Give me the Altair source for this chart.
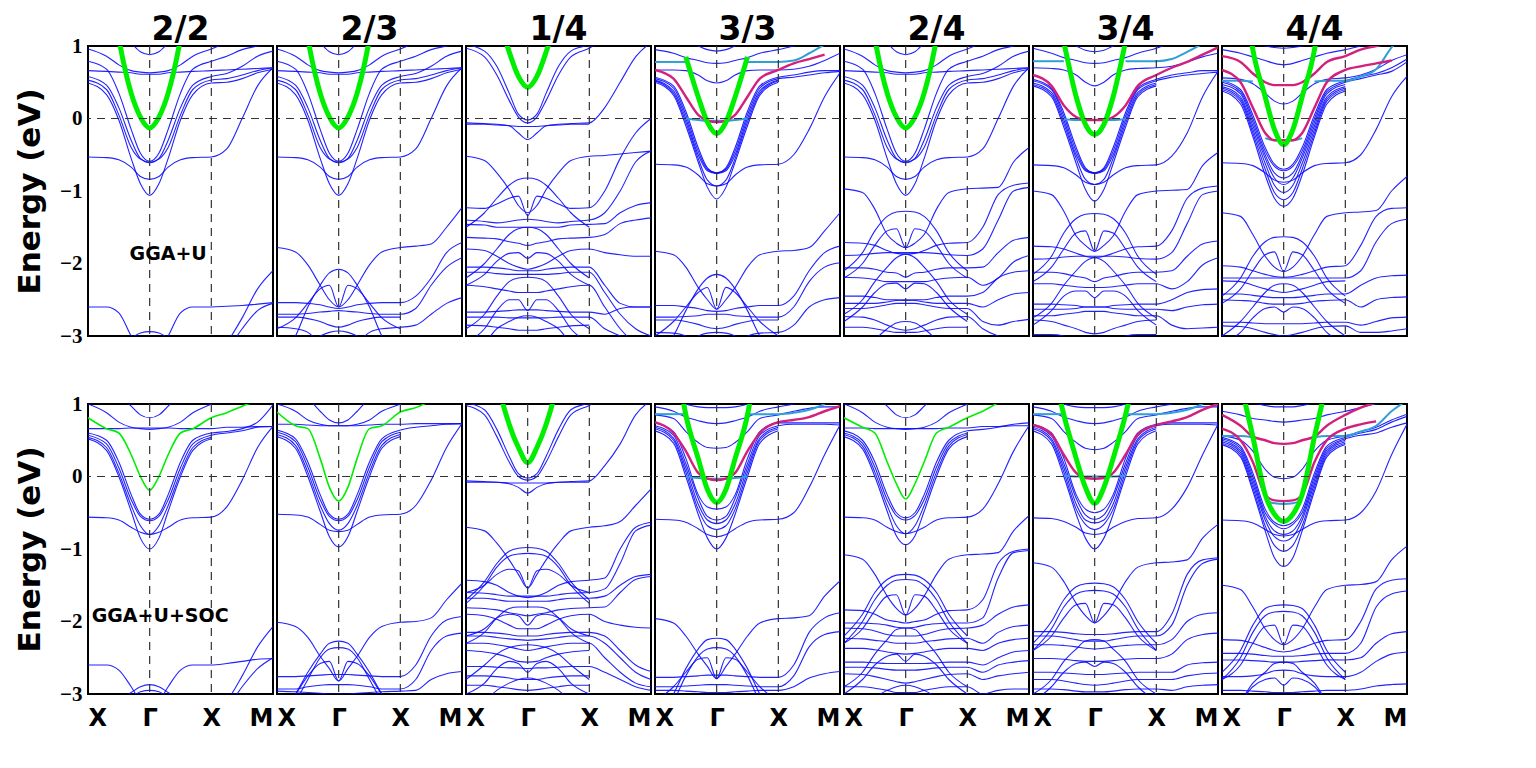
import altair as alt
import pandas as pd

# k-path: X - Gamma - X - M  (X=0, Gamma=1, X=2, M=3)
K_PATH = [0.0, 0.3, 0.5, 0.7, 0.85, 1.0, 1.15, 1.3, 1.5, 1.7, 2.0, 2.25, 2.5, 2.75, 3.0]
X_TICKS = [0, 1, 2, 3]
X_LABELS = ["X", "Γ", "X", "M"]
Y_TICKS = [-3, -2, -1, 0, 1]
COLUMN_TITLES = ["2/2", "2/3", "1/4", "3/3", "2/4", "3/4", "4/4"]
ROW_LABELS = ["GGA+U", "GGA+U+SOC"]
N = None

# Each band: [E(X), E(k=.3), E(.5), E(.7), E(.85), E(Gamma), E(XM .25), E(XM .5), E(XM .75), E(M)]
# (the Gamma-X half repeats the X-Gamma values; 6-value rows stop at X)

# ---------------- GGA+U (top row) ----------------
NEAR_TOP_A = [
    [0.66, 0.65, 0.64, 0.63, 0.61, 0.61, 0.67, 0.68, 0.69, 0.70],
    [0.96, 0.86, 0.74, 0.66, 0.64, 0.63, 1.05, 1.15, 1.2, 1.2],
    [1.6, 1.4, 1.2, 1.04, 0.92, 0.88],
    [0.79, 0.68, 0.35, -0.15, -0.48, -0.59, 0.86, 0.95, 1.0, 1.05],
    [0.58, 0.46, 0.15, -0.3, -0.55, -0.61, 0.62, 0.72, 0.86, 0.93],
    [0.53, 0.40, 0.05, -0.4, -0.56, -0.60, 0.55, 0.60, 0.66, 0.70],
    [0.49, 0.33, -0.02, -0.55, -0.9, -1.06, 0.50, 0.55, 0.63, 0.68],
    [-0.53, -0.54, -0.57, -0.67, -0.80, -0.84, -0.42, 0.0, 0.45, 0.70],
]
GREEN_TOP_A = [[3.0, 2.2, 1.1, 0.35, 0.02, -0.13]]

DEEP_TOP_22 = [
    [-2.6, -2.6, -2.68, -3.0, -3.2, -3.3, -2.59, -2.58, -2.56, -2.54],
    [-3.4, -3.3, -3.15, -3.03, -2.96, -2.94, -3.1, -2.75, -2.35, -2.1],
    [-3.4, -3.3, -3.2, -3.1, -3.05, -3.05, -3.2, -2.9, -2.65, -2.55],
]

DEEP_TOP_23 = [
    [-1.78, -1.84, -2.02, -2.3, -2.5, -2.6, -1.76, -1.73, -1.5, -1.23],
    [-2.9, -2.75, -2.55, -2.35, -2.3, -2.6],
    [-3.3, -3.0, -2.6, -2.3, -2.13, -2.08],
    [-2.54, -2.54, -2.55, -2.57, -2.6, -2.62, -2.45, -2.2, -1.85, -1.71],
    [-2.7, -2.7, -2.69, -2.67, -2.66, -2.65, -2.62, -2.3, -2.05, -1.92],
    [-2.74, -2.74, -2.76, -2.8, -2.85, -2.88],
    [-2.88, -2.9, -2.95, -3.1, -3.2, -3.2, -2.85, -2.7, -2.55, -2.47],
    [-3.3, -3.2, -3.1, -3.0, -2.95, -2.93],
]

BLUE_TOP_14 = [
    [0.97, 0.85, 0.6, 0.25, 0.02, -0.06, 1.1, 1.2, 1.2, 1.2],
    [1.02, 0.93, 0.72, 0.35, 0.06, -0.02, 1.15, 1.2, 1.2, 1.2],
    [-0.06, -0.07, -0.08, -0.1, -0.2, -0.29, 0.15, 0.5, 0.85, 1.05],
    [-0.08, -0.08, -0.09, -0.1, -0.11, -0.11],
    [-0.52, -0.58, -0.75, -0.98, -1.2, -1.3, -0.51, -0.49, -0.47, -0.45],
    [-1.5, -1.3, -1.1, -0.92, -0.84, -0.82],
    [-1.23, -1.24, -1.18, -1.1, -1.07, -1.34, -1.0, -0.55, -0.2, 0.0],
    [-1.4, -1.42, -1.44, -1.42, -1.4, -1.39, -1.3, -1.0, -0.6, -0.45],
    [-1.46, -1.47, -1.5, -1.5, -1.5, -1.5, -1.45, -1.3, -1.2, -1.16],
    [-2.2, -2.0, -1.8, -1.6, -1.52, -1.5],
    [-1.64, -1.65, -1.66, -1.7, -1.72, -1.75, -1.6, -1.45, -1.4, -1.37],
    [-2.3, -2.15, -1.97, -1.86, -1.85, -1.93],
    [-1.8, -1.82, -1.9, -2.0, -2.05, -2.08, -1.85, -1.88, -1.9, -1.9],
    [-2.05, -2.05, -2.06, -2.08, -2.1, -2.1, -2.3, -2.55, -2.6, -2.6],
    [-2.12, -2.12, -2.14, -2.15, -2.15, -2.15, -2.4, -2.7, -2.9, -3.0],
    [-2.9, -2.7, -2.45, -2.25, -2.2, -2.19],
    [-2.3, -2.32, -2.35, -2.38, -2.4, -2.4, -2.6, -2.9, -3.1, -3.2],
    [-3.1, -2.9, -2.65, -2.5, -2.5, -2.65],
    [-2.67, -2.67, -2.66, -2.65, -2.64, -2.64, -2.7, -2.62, -2.6, -2.6],
    [-2.74, -2.74, -2.74, -2.75, -2.75, -2.75, -2.9, -3.0, -3.1, -3.1],
    [-2.85, -2.86, -2.88, -2.9, -2.92, -2.92],
    [-3.3, -3.1, -2.9, -2.8, -2.74, -2.72],
]
GREEN_TOP_14 = [[N, 2.4, 1.5, 0.92, 0.58, 0.43]]

BLUE_TOP_33 = [
    [0.95, 0.9, 0.84, 0.8, 0.77, 0.76, 1.0, 1.05, 1.1, 1.1],
    [0.67, 0.67, 0.66, 0.6, 0.52, 0.49, 0.68, 0.72, 0.8, 0.9],
    [1.4, 1.2, 1.06, 1.0, 0.95, 0.93],
    [0.57, 0.45, 0.1, -0.4, -0.68, -0.75, 0.6, 0.64, 0.66, 0.66],
    [0.55, 0.42, 0.05, -0.45, -0.7, -0.75, 0.57, 0.6, 0.63, 0.65],
    [0.53, 0.38, 0.0, -0.5, -0.72, -0.76],
    [0.52, 0.35, -0.05, -0.55, -0.85, -0.93],
    [0.5, 0.32, -0.1, -0.6, -0.95, -1.11],
    [-0.63, -0.64, -0.67, -0.78, -0.9, -0.93, -0.5, -0.15, 0.3, 0.63],
    [-1.83, -1.88, -2.05, -2.33, -2.5, -2.63, -1.82, -1.78, -1.55, -1.3],
    [-3.0, -2.8, -2.6, -2.4, -2.33, -2.63],
    [-3.3, -3.0, -2.65, -2.35, -2.2, -2.15],
    [-2.58, -2.58, -2.6, -2.62, -2.65, -2.66, -2.45, -2.1, -1.85, -1.76],
    [-2.74, -2.74, -2.73, -2.72, -2.7, -2.7, -2.6, -2.25, -2.05, -1.99],
    [-2.78, -2.78, -2.8, -2.84, -2.88, -2.9],
    [-2.95, -2.96, -3.0, -3.1, -3.2, -3.2, -2.85, -2.6, -2.5, -2.47],
    [-3.3, -3.2, -3.1, -3.0, -2.96, -2.95],
]
GREEN_TOP_33 = [[N, N, 0.85, 0.3, -0.05, -0.21]]
MAGENTA_TOP_33 = [[0.67, 0.55, 0.3, 0.05, -0.03, -0.05, 0.76, 0.82, 0.88, N]]
CYAN_TOP_33 = [[0.78, 0.78, 0.78, N, N, N, 0.8, 0.9, 1.02, N],
               [N, N, 0.0, -0.02, -0.03, -0.03]]

DEEP_TOP_24 = [
    [-0.97, -1.02, -1.25, -1.6, -1.72, -1.78, -0.96, -0.95, -0.6, -0.4],
    [-2.1, -1.85, -1.55, -1.35, -1.29, -1.28],
    [-2.2, -2.0, -1.75, -1.55, -1.52, -1.78],
    [-1.71, -1.72, -1.75, -1.82, -1.86, -1.87, -1.5, -1.05, -0.92, -0.89],
    [-1.89, -1.88, -1.86, -1.85, -1.85, -1.85, -1.8, -1.4, -1.0, -0.95],
    [-2.06, -2.06, -2.08, -2.12, -2.13, -2.19, -2.05, -1.85, -1.68, -1.64],
    [-2.7, -2.5, -2.25, -2.05, -1.92, -1.87],
    [-2.19, -2.2, -2.22, -2.25, -2.25, -2.25, -2.3, -2.2, -1.98, -1.89],
    [-2.8, -2.6, -2.4, -2.28, -2.27, -2.35],
    [-2.45, -2.45, -2.47, -2.5, -2.5, -2.51, -2.4, -2.2, -2.12, -2.1],
    [-2.55, -2.55, -2.55, -2.53, -2.51, -2.5, -2.6, -2.5, -2.42, -2.4],
    [-2.62, -2.62, -2.6, -2.57, -2.55, -2.55, -2.8, -2.85, -2.8, -2.77],
    [-2.73, -2.74, -2.78, -2.85, -2.9, -2.92, -2.9, -3.0, -3.05, -3.1],
    [-2.88, -2.88, -2.9, -2.93, -2.95, -2.95],
    [-3.3, -3.2, -3.05, -2.9, -2.82, -2.8],
]

BLUE_TOP_34 = [
    [0.97, 0.9, 0.84, 0.8, 0.77, 0.76, 1.05, 1.1, 1.1, 1.1],
    [0.7, 0.69, 0.67, 0.6, 0.5, 0.45, 0.72, 0.78, 0.85, 0.9],
    [1.4, 1.2, 1.06, 1.0, 0.94, 0.92],
    [0.54, 0.42, 0.08, -0.4, -0.68, -0.75, 0.6, 0.63, 0.66, 0.66],
    [0.52, 0.4, 0.03, -0.45, -0.7, -0.75, 0.57, 0.6, 0.62, 0.64],
    [0.49, 0.36, -0.02, -0.5, -0.72, -0.76],
    [0.47, 0.33, -0.07, -0.55, -0.84, -0.91],
    [0.45, 0.3, -0.12, -0.62, -0.98, -1.14],
    [-0.64, -0.65, -0.68, -0.78, -0.88, -0.91, -0.52, -0.2, 0.3, 0.65],
    [-1.0, -1.05, -1.28, -1.62, -1.75, -1.83, -0.99, -0.98, -0.65, -0.47],
    [-2.15, -1.9, -1.58, -1.38, -1.32, -1.31],
    [-2.25, -2.05, -1.8, -1.58, -1.55, -1.83],
    [-1.76, -1.77, -1.8, -1.86, -1.9, -1.92, -1.55, -1.1, -0.96, -0.93],
    [-1.94, -1.93, -1.91, -1.9, -1.9, -1.9, -1.85, -1.45, -1.05, -1.0],
    [-2.12, -2.12, -2.14, -2.18, -2.2, -2.25, -2.1, -1.9, -1.73, -1.69],
    [-2.75, -2.55, -2.3, -2.1, -1.97, -1.92],
    [-2.28, -2.28, -2.3, -2.32, -2.33, -2.33, -2.35, -2.25, -2.02, -1.92],
    [-2.85, -2.65, -2.45, -2.38, -2.38, -2.47],
    [-2.56, -2.56, -2.57, -2.58, -2.6, -2.6, -2.5, -2.4, -2.36, -2.35],
    [-2.63, -2.63, -2.63, -2.62, -2.6, -2.6, -2.65, -2.6, -2.57, -2.56],
    [-2.72, -2.72, -2.7, -2.68, -2.66, -2.66, -2.85, -2.9, -2.89, -2.88],
    [-2.78, -2.8, -2.85, -2.9, -2.95, -2.97],
    [-2.98, -2.98, -3.0, -3.05, -3.05, -3.05],
]
GREEN_TOP_34 = [[N, 1.8, 1.05, 0.3, -0.08, -0.22]]
MAGENTA_TOP_34 = [[0.6, 0.45, 0.18, 0.02, -0.02, -0.02, 0.7, 0.78, 0.88, 0.98]]
CYAN_TOP_34 = [[0.79, 0.79, 0.79, N, N, N, 0.82, 0.92, 1.03, N],
               [N, N, -0.01, -0.02, -0.02, -0.02]]

BLUE_TOP_44 = [
    [0.95, 0.9, 0.85, 0.8, 0.76, 0.74, 1.0, 1.05, 1.1, 1.1],
    [1.3, 1.15, 1.05, 1.0, 0.98, 0.97],
    [0.56, 0.54, 0.48, 0.35, 0.24, 0.2, 0.6, 0.68, 0.8, 0.88],
    [0.52, 0.4, 0.05, -0.4, -0.63, -0.7, 0.58, 0.62, 0.7, 0.82],
    [0.5, 0.37, 0.0, -0.45, -0.66, -0.72, 0.55, 0.6, 0.65, 0.78],
    [0.47, 0.34, -0.05, -0.5, -0.75, -0.82],
    [0.44, 0.3, -0.1, -0.55, -0.82, -0.91],
    [0.42, 0.27, -0.15, -0.62, -0.92, -1.02],
    [0.4, 0.24, -0.2, -0.7, -1.02, -1.12],
    [0.38, 0.2, -0.25, -0.78, -1.1, -1.21],
    [-0.61, -0.62, -0.65, -0.75, -0.85, -0.88, -0.5, -0.15, 0.3, 0.58],
    [-1.3, -1.35, -1.6, -1.9, -2.05, -2.11, -1.29, -1.27, -1.0, -0.8],
    [-2.45, -2.2, -1.9, -1.7, -1.64, -1.63],
    [-2.55, -2.35, -2.1, -1.88, -1.84, -2.11],
    [-2.03, -2.05, -2.1, -2.15, -2.18, -2.19, -1.75, -1.35, -1.24, -1.23],
    [-2.2, -2.2, -2.2, -2.2, -2.2, -2.2, -2.1, -1.7, -1.45, -1.39],
    [-2.24, -2.25, -2.3, -2.35, -2.38, -2.4],
    [-2.42, -2.42, -2.44, -2.46, -2.47, -2.47, -2.3, -2.2, -2.17, -2.16],
    [-3.0, -2.8, -2.6, -2.4, -2.3, -2.28],
    [-2.5, -2.51, -2.52, -2.55, -2.56, -2.56, -2.6, -2.5, -2.47, -2.46],
    [-3.1, -2.95, -2.75, -2.62, -2.6, -2.67],
    [-2.81, -2.81, -2.82, -2.83, -2.83, -2.83, -2.85, -2.8, -2.75, -2.74],
    [-2.86, -2.87, -2.9, -2.95, -2.98, -3.0, -2.95, -2.95, -2.93, -2.9],
]
GREEN_TOP_44 = [[N, 2.2, 0.95, 0.3, -0.15, -0.36]]
MAGENTA_TOP_44 = [[0.67, 0.5, 0.15, -0.2, -0.3, -0.3, 0.72, 0.76, 0.8, N],
                  [0.86, 0.78, 0.62, 0.5, 0.46, 0.46, 0.95, 1.0, 1.05, N]]
CYAN_TOP_44 = [[0.52, 0.52, 0.51, N, N, N, 0.58, 0.68, 0.98, 1.2],
               [N, N, N, -0.27, -0.3, -0.3]]

# ---------------- GGA+U+SOC (bottom row) ----------------
BLUE_BOT_22 = [
    [0.66, 0.66, 0.66, 0.67, 0.67, 0.67, 0.68, 0.68, 0.69, 0.69],
    [1.0, 0.88, 0.75, 0.68, 0.66, 0.65, 1.1, 1.2, 1.2, 1.2],
    [1.6, 1.4, 1.15, 0.97, 0.85, 0.81],
    [0.6, 0.5, 0.2, -0.25, -0.52, -0.59, 0.62, 0.66, 0.75, 0.99],
    [0.57, 0.45, 0.12, -0.32, -0.55, -0.61, 0.6, 0.63, 0.68, 0.69],
    [0.54, 0.4, 0.05, -0.4, -0.68, -0.8],
    [0.52, 0.36, 0.0, -0.48, -0.85, -1.0],
    [-0.56, -0.57, -0.6, -0.7, -0.77, -0.8, -0.42, -0.05, 0.4, 0.69],
    [-2.6, -2.6, -2.67, -2.9, -3.1, -3.2, -2.58, -2.55, -2.52, -2.51],
    [-3.3, -3.2, -3.1, -2.98, -2.9, -2.87, -3.1, -2.75, -2.35, -2.07],
    [-3.4, -3.3, -3.15, -3.05, -2.97, -2.95, -3.2, -2.9, -2.65, -2.5],
]
GREEN_BOT_22 = [[0.81, 0.66, 0.6, 0.3, 0.0, -0.19, 0.88, 0.97, 1.05, N]]

BLUE_BOT_23 = [
    [0.72, 0.72, 0.71, 0.7, 0.7, 0.7, 0.73, 0.73, 0.73, 0.73],
    [1.0, 0.9, 0.78, 0.72, 0.7, 0.7, 1.1, 1.2, 1.2, 1.2],
    [1.6, 1.4, 1.1, 0.9, 0.78, 0.74],
    [0.64, 0.52, 0.2, -0.25, -0.52, -0.59, 0.68, 0.7, 0.72, 0.73],
    [0.61, 0.48, 0.13, -0.32, -0.55, -0.61],
    [0.58, 0.43, 0.06, -0.4, -0.65, -0.74],
    [0.55, 0.39, 0.0, -0.48, -0.83, -0.97],
    [-0.52, -0.53, -0.56, -0.66, -0.74, -0.76, -0.4, -0.05, 0.4, 0.73],
    [-2.01, -2.07, -2.22, -2.48, -2.65, -2.82, -2.0, -1.95, -1.7, -1.47],
    [-3.3, -3.0, -2.7, -2.45, -2.3, -2.27],
    [-3.4, -3.1, -2.8, -2.5, -2.38, -2.36],
    [-3.2, -3.0, -2.75, -2.58, -2.55, -2.82],
    [-2.76, -2.76, -2.75, -2.74, -2.73, -2.73, -2.6, -2.2, -1.98, -1.93],
    [-2.93, -2.93, -2.9, -2.88, -2.87, -2.87, -2.8, -2.4, -2.2, -2.16],
    [-2.96, -2.97, -2.98, -2.99, -3.0, -3.0, -2.95, -2.8, -2.72, -2.69],
]
GREEN_BOT_23 = [[0.89, 0.7, 0.66, 0.25, -0.15, -0.34, 0.95, 1.05, N, N]]

BLUE_BOT_14 = [
    [0.98, 0.85, 0.55, 0.2, 0.0, -0.05, 1.1, 1.2, 1.2, 1.2],
    [1.02, 0.92, 0.65, 0.28, 0.04, -0.02, 1.15, 1.2, 1.2, 1.2],
    [-0.06, -0.07, -0.08, -0.1, -0.15, -0.23, 0.15, 0.45, 0.85, 1.05],
    [-0.08, -0.08, -0.08, -0.09, -0.09, -0.09],
    [-0.7, -0.75, -0.92, -1.15, -1.35, -1.54, -0.68, -0.62, -0.4, -0.17],
    [-1.7, -1.45, -1.2, -1.03, -0.99, -0.98],
    [-1.75, -1.5, -1.25, -1.1, -1.07, -1.06],
    [-1.6, -1.5, -1.35, -1.28, -1.3, -1.54],
    [-1.43, -1.45, -1.5, -1.6, -1.65, -1.67, -1.4, -1.0, -0.7, -0.63],
    [-1.6, -1.61, -1.63, -1.65, -1.65, -1.65, -1.55, -1.2, -0.75, -0.67],
    [-1.68, -1.68, -1.7, -1.72, -1.72, -1.72, -1.65, -1.5, -1.38, -1.35],
    [-1.81, -1.82, -1.84, -1.88, -1.9, -1.92, -1.8, -1.6, -1.42, -1.38],
    [-2.3, -2.15, -1.95, -1.82, -1.8, -1.8],
    [-2.2, -2.1, -1.95, -1.9, -1.92, -2.05],
    [-1.9, -1.92, -1.97, -2.05, -2.1, -2.1, -2.0, -2.05, -2.08, -2.09],
    [-2.15, -2.15, -2.16, -2.18, -2.2, -2.2, -2.2, -2.4, -2.6, -2.69],
    [-2.2, -2.2, -2.22, -2.24, -2.25, -2.26, -2.3, -2.5, -2.7, -2.8],
    [-2.3, -2.3, -2.32, -2.35, -2.38, -2.4, -2.5, -2.7, -2.85, -2.9],
    [-2.8, -2.6, -2.45, -2.36, -2.33, -2.32],
    [-2.4, -2.42, -2.45, -2.5, -2.55, -2.56],
    [-3.0, -2.85, -2.65, -2.55, -2.58, -2.7],
    [-2.62, -2.62, -2.63, -2.64, -2.64, -2.65, -2.7, -2.8, -2.9, -2.95],
    [-2.75, -2.75, -2.76, -2.78, -2.8, -2.8],
    [-2.88, -2.88, -2.9, -2.92, -2.94, -2.95],
    [-3.3, -3.1, -2.95, -2.85, -2.8, -2.78],
]
GREEN_BOT_14 = [[N, 2.4, 1.35, 0.72, 0.4, 0.19]]

BLUE_BOT_33 = [
    [0.96, 0.9, 0.82, 0.77, 0.74, 0.73, 1.0, 1.05, 1.05, 1.05],
    [0.85, 0.8, 0.62, 0.47, 0.4, 0.39, 0.9, 0.94, 0.96, 0.96],
    [1.2, 1.1, 1.0, 0.96, 0.95, 0.95],
    [0.74, 0.62, 0.25, -0.25, -0.42, -0.45, 0.74, 0.74, 0.74, 0.74],
    [0.7, 0.57, 0.18, -0.3, -0.55, -0.6, 0.72, 0.72, 0.72, 0.71],
    [0.68, 0.53, 0.12, -0.38, -0.6, -0.65],
    [0.66, 0.5, 0.06, -0.45, -0.68, -0.73],
    [0.63, 0.46, 0.0, -0.52, -0.85, -1.0],
    [-0.59, -0.6, -0.63, -0.72, -0.8, -0.83, -0.5, -0.15, 0.3, 0.71],
    [-1.96, -2.02, -2.2, -2.45, -2.62, -2.79, -1.95, -1.92, -1.65, -1.44],
    [-3.3, -3.0, -2.65, -2.38, -2.25, -2.23],
    [-3.4, -3.1, -2.75, -2.48, -2.38, -2.36],
    [-3.1, -2.9, -2.7, -2.52, -2.5, -2.79],
    [-2.77, -2.77, -2.76, -2.75, -2.74, -2.74, -2.6, -2.15, -1.95, -1.88],
    [-2.9, -2.9, -2.89, -2.88, -2.87, -2.87, -2.75, -2.35, -2.18, -2.14],
    [-2.95, -2.95, -2.96, -2.97, -2.98, -2.98, -2.9, -2.78, -2.72, -2.69],
]
GREEN_BOT_33 = [[N, 1.9, 0.85, 0.25, -0.18, -0.36]]
MAGENTA_BOT_33 = [[0.75, 0.6, 0.35, 0.05, -0.03, -0.05, 0.78, 0.82, 0.9, 0.97]]
CYAN_BOT_33 = [[0.86, 0.86, 0.86, N, N, N, 0.88, 0.92, 1.0, N],
               [N, N, 0.0, -0.02, -0.03, -0.03]]

BLUE_BOT_24 = [
    [0.67, 0.67, 0.66, 0.66, 0.66, 0.66, 0.69, 0.69, 0.7, 0.7],
    [1.0, 0.88, 0.75, 0.68, 0.66, 0.65, 1.1, 1.2, 1.2, 1.2],
    [1.6, 1.4, 1.15, 0.97, 0.85, 0.81],
    [0.63, 0.5, 0.2, -0.25, -0.5, -0.57, 0.65, 0.68, 0.72, 0.74],
    [0.6, 0.46, 0.13, -0.32, -0.54, -0.6],
    [0.58, 0.42, 0.06, -0.4, -0.68, -0.79],
    [0.55, 0.38, 0.0, -0.48, -0.82, -0.94],
    [-0.56, -0.57, -0.6, -0.7, -0.76, -0.79, -0.45, -0.1, 0.35, 0.7],
    [-1.08, -1.14, -1.35, -1.65, -1.82, -1.91, -1.07, -1.05, -0.75, -0.54],
    [-2.2, -1.9, -1.6, -1.42, -1.36, -1.35],
    [-2.3, -2.0, -1.7, -1.5, -1.43, -1.42],
    [-2.3, -2.1, -1.85, -1.65, -1.63, -1.91],
    [-1.84, -1.85, -1.9, -1.98, -2.0, -2.02, -1.7, -1.2, -1.03, -1.0],
    [-2.02, -2.02, -2.03, -2.05, -2.08, -2.09, -1.95, -1.4, -1.05, -1.02],
    [-2.09, -2.1, -2.13, -2.18, -2.2, -2.2, -2.05, -1.9, -1.8, -1.77],
    [-2.23, -2.24, -2.26, -2.28, -2.3, -2.3, -2.3, -2.15, -2.07, -2.05],
    [-2.9, -2.7, -2.45, -2.25, -2.11, -2.09],
    [-2.37, -2.37, -2.39, -2.42, -2.44, -2.45, -2.4, -2.3, -2.25, -2.23],
    [-3.0, -2.8, -2.6, -2.48, -2.45, -2.55],
    [-2.56, -2.56, -2.57, -2.58, -2.58, -2.58, -2.6, -2.5, -2.42, -2.4],
    [-2.63, -2.63, -2.64, -2.66, -2.67, -2.67, -2.7, -2.6, -2.56, -2.54],
    [-2.72, -2.73, -2.76, -2.8, -2.83, -2.85, -2.8, -2.75, -2.72, -2.7],
    [-2.9, -2.9, -2.92, -2.95, -2.98, -2.98, -3.0, -2.95, -2.93, -2.93],
    [-3.4, -3.2, -3.05, -2.95, -2.9, -2.88],
]
GREEN_BOT_24 = [[0.81, 0.68, 0.6, 0.2, -0.1, -0.31, 0.9, 1.02, N, N]]

BLUE_BOT_34 = [
    [0.96, 0.9, 0.82, 0.77, 0.74, 0.73, 1.0, 1.05, 1.05, 1.05],
    [0.85, 0.8, 0.62, 0.47, 0.39, 0.37, 0.9, 0.94, 0.96, 0.96],
    [1.2, 1.1, 1.0, 0.96, 0.95, 0.95],
    [0.72, 0.6, 0.25, -0.25, -0.45, -0.5, 0.74, 0.74, 0.74, 0.74],
    [0.7, 0.56, 0.18, -0.3, -0.53, -0.59, 0.72, 0.72, 0.72, 0.71],
    [0.68, 0.52, 0.12, -0.38, -0.6, -0.64],
    [0.66, 0.49, 0.06, -0.45, -0.66, -0.73],
    [0.63, 0.45, 0.0, -0.52, -0.85, -1.0],
    [-0.57, -0.58, -0.62, -0.7, -0.78, -0.8, -0.45, -0.15, 0.3, 0.72],
    [-1.19, -1.25, -1.45, -1.75, -1.92, -2.02, -1.18, -1.15, -0.85, -0.66],
    [-2.3, -2.0, -1.7, -1.52, -1.48, -1.47],
    [-2.4, -2.1, -1.8, -1.62, -1.58, -1.57],
    [-2.4, -2.2, -1.95, -1.77, -1.75, -2.02],
    [-2.14, -2.14, -2.15, -2.17, -2.18, -2.18, -1.9, -1.35, -1.15, -1.12],
    [-2.2, -2.2, -2.22, -2.25, -2.27, -2.27, -2.05, -1.5, -1.2, -1.14],
    [-2.32, -2.32, -2.33, -2.35, -2.37, -2.38, -2.25, -2.0, -1.9, -1.88],
    [-3.0, -2.8, -2.55, -2.38, -2.27, -2.25],
    [-2.51, -2.51, -2.52, -2.54, -2.55, -2.55, -2.45, -2.25, -2.18, -2.16],
    [-3.1, -2.9, -2.7, -2.58, -2.56, -2.62],
    [-2.7, -2.7, -2.71, -2.72, -2.73, -2.73, -2.7, -2.6, -2.57, -2.56],
    [-2.8, -2.8, -2.82, -2.85, -2.87, -2.88, -2.8, -2.75, -2.72, -2.71],
    [-2.93, -2.93, -2.94, -2.96, -2.97, -2.97, -2.95, -2.9, -2.88, -2.87],
]
GREEN_BOT_34 = [[N, 1.6, 0.85, 0.25, -0.15, -0.37]]
MAGENTA_BOT_34 = [[0.71, 0.58, 0.3, 0.05, -0.02, -0.03, 0.76, 0.82, 0.92, 1.0]]
CYAN_BOT_34 = [[0.86, 0.86, 0.86, N, N, N, 0.88, 0.92, 1.0, N],
               [N, N, 0.01, 0.0, 0.0, 0.0]]

BLUE_BOT_44 = [
    [1.2, 1.1, 1.02, 0.98, 0.96, 0.96],
    [0.9, 0.85, 0.8, 0.78, 0.76, 0.75, 0.95, 1.0, 1.02, 1.02],
    [0.56, 0.5, 0.35, 0.1, -0.01, -0.03, 0.62, 0.68, 0.78, 0.86],
    [0.54, 0.42, 0.05, -0.45, -0.63, -0.68, 0.6, 0.65, 0.75, 0.83],
    [0.52, 0.39, 0.0, -0.5, -0.66, -0.72, 0.57, 0.6, 0.68, 0.74],
    [0.5, 0.36, -0.05, -0.55, -0.75, -0.8],
    [0.48, 0.33, -0.1, -0.6, -0.83, -0.89],
    [0.46, 0.3, -0.15, -0.68, -0.95, -1.03],
    [0.44, 0.27, -0.2, -0.75, -1.12, -1.24],
    [-0.6, -0.61, -0.64, -0.73, -0.8, -0.82, -0.5, -0.2, 0.3, 0.72],
    [-1.5, -1.56, -1.8, -2.1, -2.25, -2.32, -1.49, -1.45, -1.15, -0.96],
    [-2.7, -2.4, -2.05, -1.82, -1.78, -1.77],
    [-2.8, -2.5, -2.15, -1.92, -1.87, -1.86],
    [-2.8, -2.6, -2.3, -2.07, -2.05, -2.32],
    [-2.25, -2.26, -2.3, -2.36, -2.4, -2.42, -2.0, -1.55, -1.43, -1.41],
    [-2.44, -2.44, -2.45, -2.47, -2.48, -2.48, -2.3, -1.8, -1.62, -1.58],
    [-2.53, -2.53, -2.54, -2.55, -2.56, -2.56, -2.5, -2.3, -2.17, -2.14],
    [-3.3, -3.1, -2.85, -2.7, -2.58, -2.56],
    [-2.76, -2.76, -2.75, -2.72, -2.68, -2.67, -2.7, -2.55, -2.45, -2.42],
    [-2.95, -2.95, -2.96, -2.97, -2.98, -2.98, -2.93, -2.89, -2.87, -2.86],
    [-3.3, -3.1, -2.9, -2.8, -2.78, -2.88],
]
GREEN_BOT_44 = [[N, 1.3, 0.55, -0.25, -0.52, -0.62]]
MAGENTA_BOT_44 = [[0.66, 0.5, 0.2, -0.25, -0.33, -0.34, 0.72, 0.76, N, N],
                  [0.85, 0.7, 0.55, 0.5, 0.46, 0.45, 0.95, 1.02, N, N]]
CYAN_BOT_44 = [[0.56, 0.56, 0.54, N, N, N, 0.62, 0.7, 0.9, 1.05],
               [N, N, N, -0.33, -0.37, -0.38]]

PANELS = [
    [  # GGA+U
        {"blue": NEAR_TOP_A + DEEP_TOP_22, "green": GREEN_TOP_A},
        {"blue": NEAR_TOP_A + DEEP_TOP_23, "green": GREEN_TOP_A},
        {"blue": BLUE_TOP_14, "green": GREEN_TOP_14},
        {"blue": BLUE_TOP_33, "green": GREEN_TOP_33, "magenta": MAGENTA_TOP_33, "cyan": CYAN_TOP_33},
        {"blue": NEAR_TOP_A + DEEP_TOP_24, "green": GREEN_TOP_A},
        {"blue": BLUE_TOP_34, "green": GREEN_TOP_34, "magenta": MAGENTA_TOP_34, "cyan": CYAN_TOP_34},
        {"blue": BLUE_TOP_44, "green": GREEN_TOP_44, "magenta": MAGENTA_TOP_44, "cyan": CYAN_TOP_44},
    ],
    [  # GGA+U+SOC
        {"blue": BLUE_BOT_22, "green": GREEN_BOT_22},
        {"blue": BLUE_BOT_23, "green": GREEN_BOT_23},
        {"blue": BLUE_BOT_14, "green": GREEN_BOT_14},
        {"blue": BLUE_BOT_33, "green": GREEN_BOT_33, "magenta": MAGENTA_BOT_33, "cyan": CYAN_BOT_33},
        {"blue": BLUE_BOT_24, "green": GREEN_BOT_24},
        {"blue": BLUE_BOT_34, "green": GREEN_BOT_34, "magenta": MAGENTA_BOT_34, "cyan": CYAN_BOT_34},
        {"blue": BLUE_BOT_44, "green": GREEN_BOT_44, "magenta": MAGENTA_BOT_44, "cyan": CYAN_BOT_44},
    ],
]

# styles (colour, width, opacity)
STYLE = {
    "blue": ("#0a0aff", 1.1, 0.9),
    "cyan": ("#2f9fd6", 2.0, 1.0),
    "magenta": ("#d2207c", 2.4, 1.0),
    "green": ("#00ee00", 5.0, 1.0),
}
THIN_GREEN = {(1, 0), (1, 1), (1, 4)}
LABEL_POS = [(1.3, -1.87), (1.17, -1.92)]
TITLE_POS = (1.5, 1.22)
PANEL_W, PANEL_H = 185, 290


def path_values(row):
    r = list(row) + [None] * (10 - len(row))
    x, a, b, c, d, g, m1, m2, m3, m = r
    return [x, a, b, c, d, g, d, c, b, a, x, m1, m2, m3, m]


def to_frame(rows, tag):
    recs = []
    for i, row in enumerate(rows):
        seg = 0
        gap = True
        for k, e in zip(K_PATH, path_values(row)):
            if e is None:
                gap = True
                continue
            if gap:
                seg += 1
                gap = False
            recs.append({"k": k, "E": e, "band": f"{tag}{i}_{seg}"})
    return pd.DataFrame(recs)


xs = alt.Scale(domain=[0, 3], nice=False, zero=False)
ys = alt.Scale(domain=[-3, 1], nice=False, zero=False)
label_expr = "[" + ",".join(f"'{t}'" for t in X_LABELS) + "][datum.value]"


def make_panel(spec, row, col):
    if row == 1:
        xaxis = alt.Axis(values=X_TICKS, labelExpr=label_expr, labelFont="DejaVu Sans",
                         labelFontWeight="bold", labelFontSize=24, labelColor="black",
                         labelPadding=12, labelFlush=True, labelAngle=0, ticks=False,
                         domain=False, grid=False, title=None)
        X = alt.X("k:Q", scale=xs, axis=xaxis)
    else:
        X = alt.X("k:Q", scale=xs, axis=None)
    if col == 0:
        yaxis = alt.Axis(values=Y_TICKS, labelFont="Liberation Serif", labelFontWeight="bold",
                         labelFontSize=21, labelColor="black", labelPadding=6, ticks=False,
                         domain=False, grid=False, title="Energy (eV)", titleFont="DejaVu Sans",
                         titleFontWeight="bold", titleFontSize=31, titlePadding=13,
                         titleColor="black")
        Y = alt.Y("E:Q", scale=ys, axis=yaxis)
    else:
        Y = alt.Y("E:Q", scale=ys, axis=None)

    layers = []
    for kind in ["blue", "cyan", "magenta", "green"]:
        rows = spec.get(kind)
        if not rows:
            continue
        df = to_frame(rows, kind)
        color, width, op = STYLE[kind]
        if kind == "green" and (row, col) in THIN_GREEN:
            width = 1.6
        layers.append(
            alt.Chart(df).mark_line(interpolate="monotone", clip=True, color=color,
                                    strokeWidth=width, opacity=op)
            .encode(x=X, y=Y, detail="band:N")
        )
    layers.append(
        alt.Chart(pd.DataFrame({"E": [0.0]})).mark_rule(color="#333333", strokeDash=[8, 6],
                                                        strokeWidth=1.2).encode(y=Y)
    )
    layers.append(
        alt.Chart(pd.DataFrame({"k": [1.0, 2.0]})).mark_rule(color="#333333", strokeDash=[8, 6],
                                                             strokeWidth=1.2).encode(x=X)
    )
    if col == 0:
        lk, le = LABEL_POS[row]
        layers.append(
            alt.Chart(pd.DataFrame({"k": [lk], "E": [le], "t": [ROW_LABELS[row]]}))
            .mark_text(font="DejaVu Sans", fontWeight="bold", fontSize=19, color="black")
            .encode(x=X, y=Y, text="t:N")
        )
    if row == 0:
        tk, te = TITLE_POS
        layers.append(
            alt.Chart(pd.DataFrame({"k": [tk], "E": [te], "t": [COLUMN_TITLES[col]]}))
            .mark_text(font="DejaVu Sans", fontWeight="bold", fontSize=33, color="black",
                       baseline="middle")
            .encode(x=X, y=Y, text="t:N")
        )
    return alt.layer(*layers).properties(width=PANEL_W, height=PANEL_H)


rows = []
for r in range(2):
    rows.append(alt.hconcat(*[make_panel(PANELS[r][c], r, c) for c in range(7)], spacing=0))

chart = (
    alt.vconcat(*rows, spacing=45)
    .configure(background="white")
    .configure_view(stroke="black", strokeWidth=2)
)

chart.save("out.html", embed_options={"renderer": "svg", "actions": False})
